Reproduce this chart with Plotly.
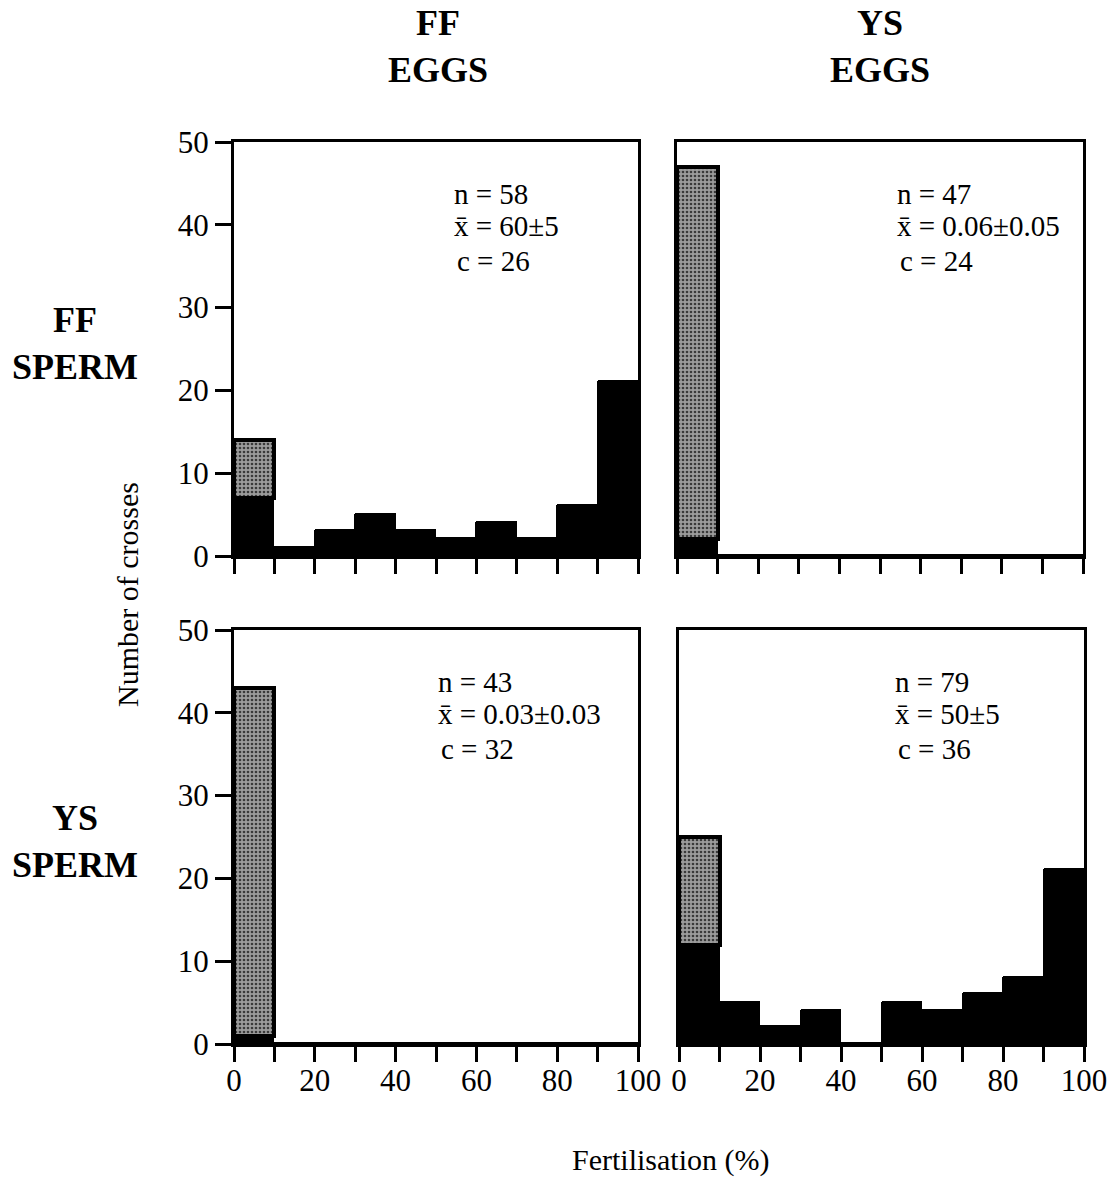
import plotly.graph_objects as go

# ---- data ----
bin_centres = [5, 15, 25, 35, 45, 55, 65, 75, 85, 95]
x_tick_vals = [0, 10, 20, 30, 40, 50, 60, 70, 80, 90, 100]
x_tick_text = ["0", "", "20", "", "40", "", "60", "", "80", "", "100"]
y_tick_vals = [0, 10, 20, 30, 40, 50]

# FF eggs x FF sperm (top-left)
ffe_ffs_black = [7, 1, 3, 5, 3, 2, 4, 2, 6, 21]
ffe_ffs_grey = [7, 0, 0, 0, 0, 0, 0, 0, 0, 0]
# YS eggs x FF sperm (top-right)
yse_ffs_black = [2, 0, 0, 0, 0, 0, 0, 0, 0, 0]
yse_ffs_grey = [45, 0, 0, 0, 0, 0, 0, 0, 0, 0]
# FF eggs x YS sperm (bottom-left)
ffe_yss_black = [1, 0, 0, 0, 0, 0, 0, 0, 0, 0]
ffe_yss_grey = [42, 0, 0, 0, 0, 0, 0, 0, 0, 0]
# YS eggs x YS sperm (bottom-right)
yse_yss_black = [12, 5, 2, 4, 0, 5, 4, 6, 8, 21]
yse_yss_grey = [13, 0, 0, 0, 0, 0, 0, 0, 0, 0]

stats = [
    ["n = 58", "x̄ = 60±5", "c = 26"],
    ["n = 47", "x̄ = 0.06±0.05", "c = 24"],
    ["n = 43", "x̄ = 0.03±0.03", "c = 32"],
    ["n = 79", "x̄ = 50±5", "c = 36"],
]

panels = [
    (ffe_ffs_black, ffe_ffs_grey),
    (yse_ffs_black, yse_ffs_grey),
    (ffe_yss_black, ffe_yss_grey),
    (yse_yss_black, yse_yss_grey),
]

W, H = 1118, 1178
FONT = "Liberation Serif"

def px_x(a, b):
    return [a / W, b / W]

def px_y(top, bottom):
    return [1 - bottom / H, 1 - top / H]

x_domains = [px_x(234, 638), px_x(677, 1083), px_x(234, 638), px_x(679, 1084)]
y_domains = [px_y(142, 556), px_y(142, 556), px_y(630, 1044), px_y(630, 1044)]

fig = go.Figure()
for i, (blk, gry) in enumerate(panels):
    sfx = "" if i == 0 else str(i + 1)
    fig.add_trace(go.Bar(
        x=bin_centres, y=blk, width=10,
        marker=dict(color="black", line=dict(color="black", width=1.5)),
        xaxis="x" + sfx, yaxis="y" + sfx, showlegend=False, hoverinfo="skip",
    ))
    fig.add_trace(go.Bar(
        x=bin_centres, y=gry, width=10,
        marker=dict(color="#8e8e8e", line=dict(color="black", width=4),
                    pattern=dict(shape=".", bgcolor="#9c9c9c", fgcolor="#3a3a3a",
                                 size=4, solidity=0.35, fillmode="replace")),
        xaxis="x" + sfx, yaxis="y" + sfx, showlegend=False, hoverinfo="skip",
    ))

layout = dict(
    template="none",
    width=W, height=H, autosize=False, barmode="stack", bargap=0,
    margin=dict(l=0, r=0, t=0, b=0, pad=0, autoexpand=False),
    plot_bgcolor="white", paper_bgcolor="white",
    font=dict(family=FONT, color="black", size=28),
)

for i in range(4):
    sfx = "" if i == 0 else str(i + 1)
    left_col = i in (0, 2)
    bottom_row = i in (2, 3)
    layout["xaxis" + sfx] = dict(
        domain=x_domains[i], anchor="y" + sfx, range=[0, 100], automargin=False,
        showline=True, linecolor="black", linewidth=3, mirror=True,
        ticks="outside", ticklen=15, tickwidth=3, tickcolor="black",
        tickvals=x_tick_vals, ticktext=x_tick_text,
        showticklabels=bottom_row, showgrid=False, zeroline=False,
        tickfont=dict(family=FONT, size=31), ticklabelstandoff=-8,
    )
    layout["yaxis" + sfx] = dict(
        domain=y_domains[i], anchor="x" + sfx, range=[0, 50], automargin=False,
        showline=True, linecolor="black", linewidth=3, mirror=True,
        ticks="outside" if left_col else "", ticklen=16, tickwidth=3, tickcolor="black",
        tickvals=y_tick_vals, showticklabels=left_col,
        showgrid=False, zeroline=False,
        tickfont=dict(family=FONT, size=31), ticklabelstandoff=0,
    )

fig.update_layout(**layout)

annotations = []
stat_x = [54, 53.7, 50, 52.8]
stat_y = [43.7, 39.8, 35.6]
for i in range(4):
    sfx = "" if i == 0 else str(i + 1)
    for j, line in enumerate(stats[i]):
        annotations.append(dict(
            text=line, x=stat_x[i] + (0.7 if j == 2 else 0), y=stat_y[j],
            xref="x" + sfx, yref="y" + sfx, xanchor="left", yanchor="middle",
            showarrow=False, font=dict(family=FONT, size=29),
        ))

def paper_text(txt, xp, yp, size, bold=False, angle=0):
    annotations.append(dict(
        text=f"<b>{txt}</b>" if bold else txt,
        x=xp / W, y=1 - yp / H, xref="paper", yref="paper",
        xanchor="center", yanchor="middle", showarrow=False, textangle=angle,
        font=dict(family=FONT, size=size),
    ))

paper_text("FF<br>EGGS", 438, 47, 36, bold=True)
paper_text("YS<br>EGGS", 880, 47, 36, bold=True)
paper_text("FF<br>SPERM", 75, 343, 36, bold=True)
paper_text("YS<br>SPERM", 75, 841, 36, bold=True)
paper_text("Number of crosses", 127, 595, 30, angle=-90)
paper_text("Fertilisation (%)", 670, 1160, 30)

fig.update_layout(annotations=annotations)
fig.write_html(
    "out.html",
    config={"displayModeBar": False},
    post_script="document.body.style.margin='0';document.body.style.overflow='hidden';",
)
